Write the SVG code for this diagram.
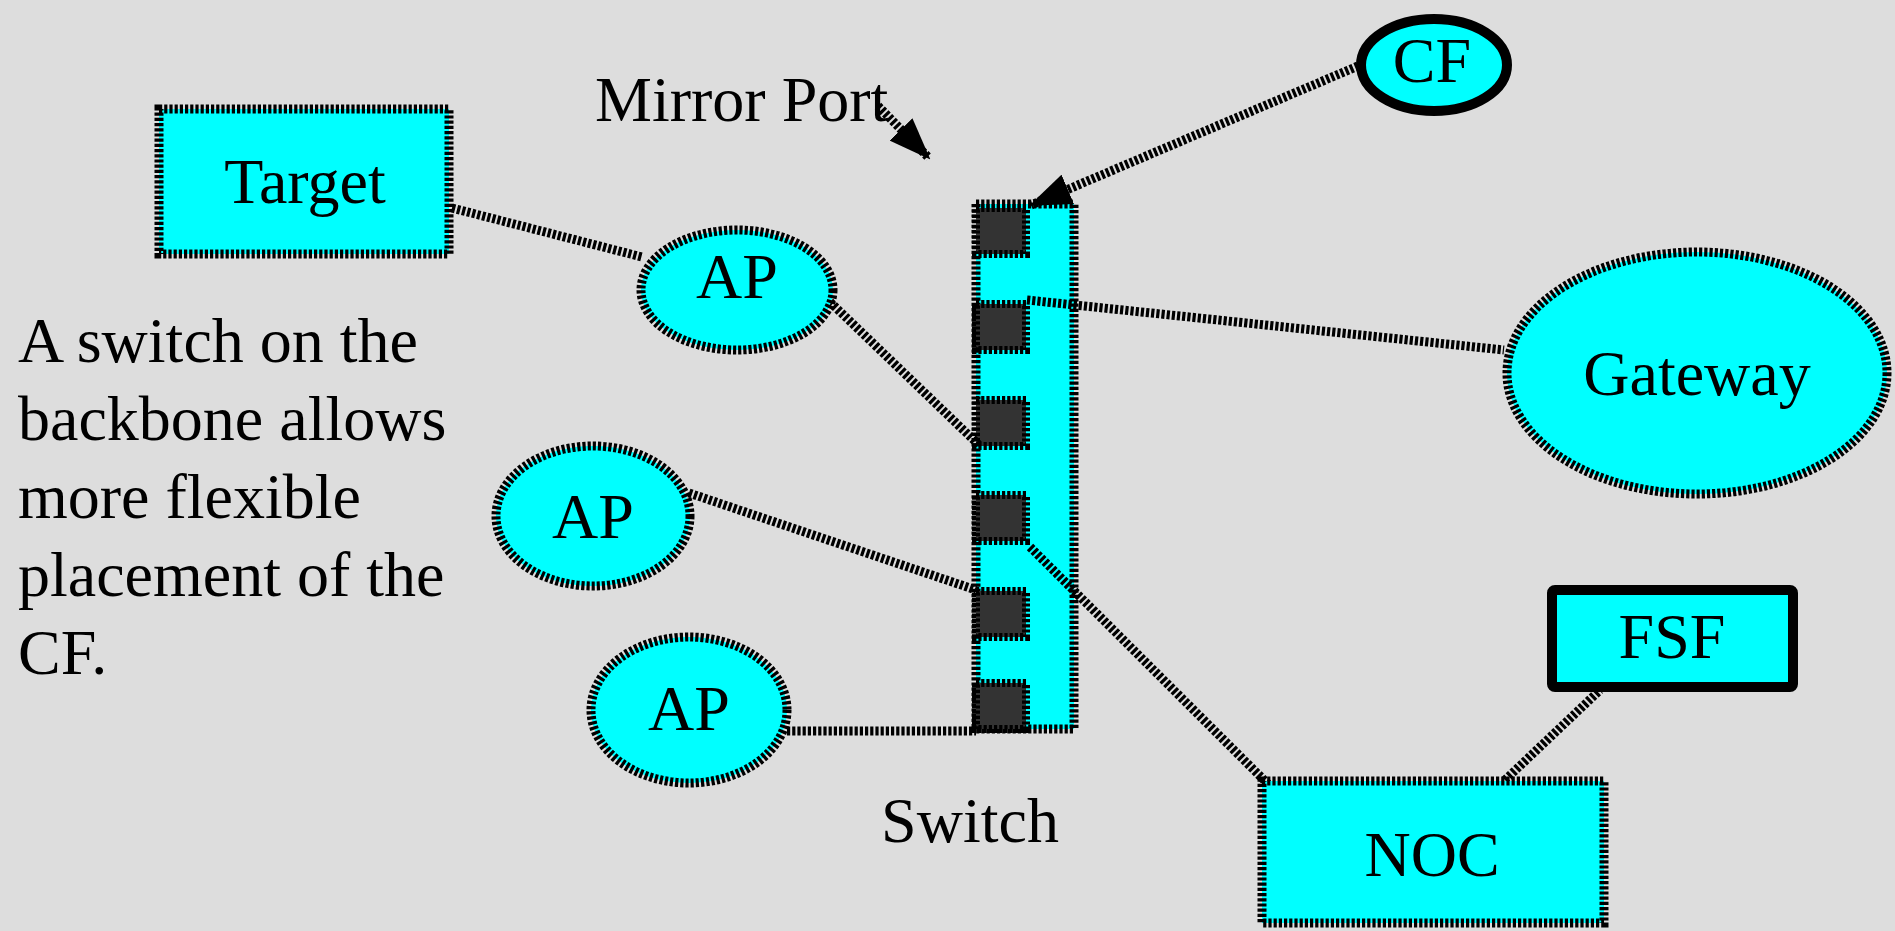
<svg xmlns="http://www.w3.org/2000/svg" width="1895" height="931" viewBox="0 0 1895 931">
<style>
.bg{fill:#dddddd}
.node{fill:#00ffff;stroke:#000;stroke-width:9;stroke-dasharray:3.2 2}
.solid{fill:#00ffff;stroke:#000;stroke-width:10}
.port{fill:#333333;stroke:#000;stroke-width:8;stroke-dasharray:3.2 2}
.conn{fill:none;stroke:#000;stroke-width:9;stroke-dasharray:3.2 2}
text{font-family:"Liberation Serif","Times New Roman",serif;font-size:64px;fill:#000}
.c{text-anchor:middle}
</style>
<defs>
<marker id="arr" markerUnits="userSpaceOnUse" markerWidth="42" markerHeight="32" viewBox="0 0 42 32" refX="40" refY="16" orient="auto">
<path d="M0,0 L42,16 L0,32 Z" fill="#000"/>
</marker>
</defs>
<rect class="bg" x="0" y="0" width="1895" height="931"/>
<g id="switch">
<rect class="node" x="976" y="204" width="98" height="525"/>
<rect class="port" x="976" y="208" width="50" height="46"/>
<rect class="port" x="976" y="304" width="50" height="46"/>
<rect class="port" x="976" y="400" width="50" height="46"/>
<rect class="port" x="976" y="495" width="50" height="46"/>
<rect class="port" x="976" y="591" width="50" height="46"/>
<rect class="port" x="976" y="683" width="50" height="46"/>
</g>
<g id="connectors">
<line class="conn" x1="452" y1="208" x2="642" y2="257"/>
<line class="conn" x1="830" y1="302" x2="979" y2="445"/>
<line class="conn" x1="1027" y1="300" x2="1504" y2="350"/>
<line class="conn" x1="689" y1="493" x2="976" y2="590"/>
<line class="conn" x1="787" y1="731" x2="976" y2="731"/>
<line class="conn" x1="1030" y1="547" x2="1268" y2="784"/>
<line class="conn" x1="1505" y1="780" x2="1600" y2="690"/>
<line class="conn" x1="1358" y1="66" x2="1031" y2="205" marker-end="url(#arr)"/>
<line class="conn" x1="878" y1="106" x2="929" y2="158" marker-end="url(#arr)"/>
</g>
<g id="target">
<rect class="node" x="159" y="109" width="290" height="145"/>
<text class="c" x="305" y="203">Target</text>
</g>
<g id="ap1">
<ellipse class="node" cx="737" cy="290" rx="96" ry="60"/>
<text class="c" x="737" y="298">AP</text>
</g>
<g id="ap2">
<ellipse class="node" cx="593" cy="516" rx="97" ry="70"/>
<text class="c" x="593" y="538">AP</text>
</g>
<g id="ap3">
<ellipse class="node" cx="689" cy="710" rx="98" ry="73"/>
<text class="c" x="689" y="730">AP</text>
</g>
<g id="gateway">
<ellipse class="node" cx="1697" cy="373" rx="190" ry="121"/>
<text class="c" x="1697" y="395">Gateway</text>
</g>
<g id="cf">
<ellipse class="solid" cx="1434" cy="65" rx="73" ry="46"/>
<text class="c" x="1432" y="82">CF</text>
</g>
<g id="fsf">
<rect class="solid" x="1552" y="590" width="241" height="97" rx="3"/>
<text class="c" x="1672" y="658">FSF</text>
</g>
<g id="noc">
<rect class="node" x="1262" y="781" width="342" height="142"/>
<text class="c" x="1432" y="876">NOC</text>
</g>
<g id="labels">
<text x="595" y="121">Mirror Port</text>
<text class="c" x="970" y="842">Switch</text>
<text x="18" y="362">A switch on the</text>
<text x="18" y="440">backbone allows</text>
<text x="18" y="518">more flexible</text>
<text x="18" y="596">placement of the</text>
<text x="18" y="674">CF.</text>
</g>
</svg>
